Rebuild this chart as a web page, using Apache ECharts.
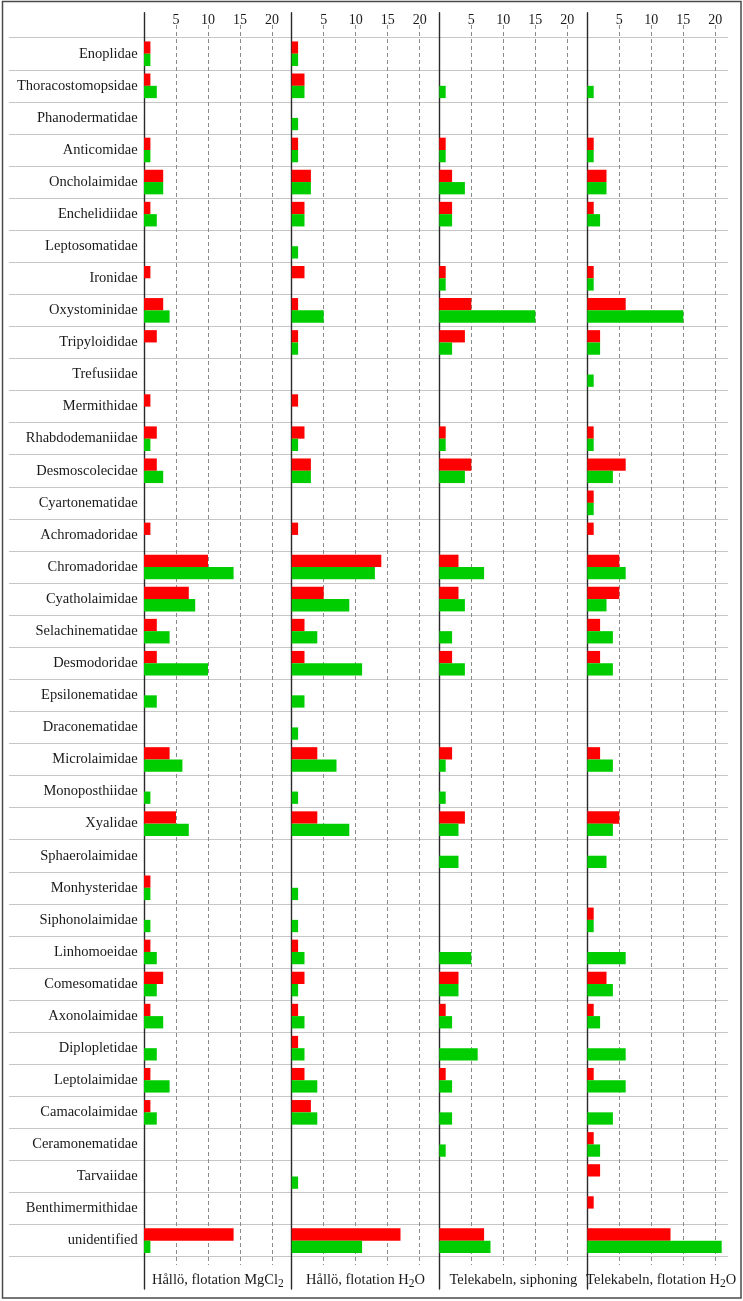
<!DOCTYPE html>
<html><head><meta charset="utf-8">
<script src="https://cdn.jsdelivr.net/npm/echarts@6/dist/echarts.min.js"></script>
<style>html,body{margin:0;padding:0;background:#fff}#c{width:743px;height:1301px}</style>
</head><body><div id="c"></div>
<script>
// ---------------- data ----------------
const families = ['Enoplidae','Thoracostomopsidae','Phanodermatidae','Anticomidae','Oncholaimidae','Enchelidiidae','Leptosomatidae','Ironidae','Oxystominidae','Tripyloididae','Trefusiidae','Mermithidae','Rhabdodemaniidae','Desmoscolecidae','Cyartonematidae','Achromadoridae','Chromadoridae','Cyatholaimidae','Selachinematidae','Desmodoridae','Epsilonematidae','Draconematidae','Microlaimidae','Monoposthiidae','Xyalidae','Sphaerolaimidae','Monhysteridae','Siphonolaimidae','Linhomoeidae','Comesomatidae','Axonolaimidae','Diplopletidae','Leptolaimidae','Camacolaimidae','Ceramonematidae','Tarvaiidae','Benthimermithidae','unidentified'];

const redHalloMgCl2   = [1,1,0,1,3,1,0,1,3,2,0,1,2,2,0,1,10,7,2,2,0,0,4,0,5,0,1,0,1,3,1,0,1,1,0,0,0,14];
const greenHalloMgCl2 = [1,2,0,1,3,2,0,0,4,0,0,0,1,3,0,0,14,8,4,10,2,0,6,1,7,0,1,1,2,2,3,2,4,2,0,0,0,1];

const redHalloH2O     = [1,2,0,1,3,2,0,2,1,1,0,1,2,3,0,1,14,5,2,2,0,0,4,0,4,0,0,0,1,2,1,1,2,3,0,0,0,17];
const greenHalloH2O   = [1,2,1,1,3,2,1,0,5,1,0,0,1,3,0,0,13,9,4,11,2,1,7,1,9,0,1,1,2,1,2,2,4,4,0,1,0,11];

const redTeleSiph     = [0,0,0,1,2,2,0,1,5,4,0,0,1,5,0,0,3,3,0,2,0,0,2,0,4,0,0,0,0,3,1,0,1,0,0,0,0,7];
const greenTeleSiph   = [0,1,0,1,4,2,0,1,15,2,0,0,1,4,0,0,7,4,2,4,0,0,1,1,3,3,0,0,5,3,2,6,2,2,1,0,0,8];

const redTeleH2O      = [0,0,0,1,3,1,0,1,6,2,0,0,1,6,1,1,5,5,2,2,0,0,2,0,5,0,0,1,0,3,1,0,1,0,1,2,1,13];
const greenTeleH2O    = [0,1,0,1,3,2,0,1,15,2,1,0,1,4,1,0,6,3,4,4,0,0,4,0,4,3,0,1,6,4,2,6,6,4,2,0,0,21];

const tickLabels = [5, 10, 15, 20];
const panelTitles = [
  '{b|Hållö, flotation MgCl}{s|2}',
  '{b|Hållö, flotation H}{s|2}{b|O}',
  '{b|Telekabeln, siphoning}',
  '{b|Telekabeln, flotation H}{s|2}{b|O}'
];
const panelData = [
  [redHalloMgCl2, greenHalloMgCl2],
  [redHalloH2O, greenHalloH2O],
  [redTeleSiph, greenTeleSiph],
  [redTeleH2O, greenTeleH2O]
];

// ---------------- layout / style ----------------
const FONT = 'Liberation Serif';
const TEXT = '#1a1a1a';
const RED = '#ff0000', GREEN = '#00cd00';
const AXIS_X = [144, 291.7, 439.3, 587.3];
const RIGHT_END = 728;
const PX_PER_UNIT = 6.4;
const ROWS_TOP = 37.7, ROWS_BOTTOM = 1256.7;
const DASH_TOP = 25, DASH_BOTTOM = 1265;
const LINE_TOP = 12.7, LINE_BOTTOM = 1289;
const LABEL_Y = 1280;
const LABEL_LEFT = 9;

const grids = [], xAxes = [], yAxes = [], series = [], titles = [];

function hiddenValueAxes(gi) {
  xAxes.push({ type: 'value', gridIndex: gi, show: false });
  yAxes.push({ type: 'value', gridIndex: gi, show: false });
}

// outer frame
grids.push({ left: 2.5, top: 1.5, width: 738.5, height: 1296.5, show: true,
  borderColor: '#4a4a4a', borderWidth: 1.5, backgroundColor: 'transparent' });
hiddenValueAxes(0);

// label area row separators
grids.push({ left: LABEL_LEFT, top: ROWS_TOP, width: AXIS_X[0] - LABEL_LEFT, height: ROWS_BOTTOM - ROWS_TOP });
xAxes.push({ type: 'value', gridIndex: 1, show: false });
yAxes.push({ type: 'category', gridIndex: 1, data: families, inverse: true,
  axisLine: { show: false }, axisTick: { show: false }, axisLabel: { show: false },
  splitLine: { show: true, lineStyle: { color: '#c6c6c6', width: 1.2 } } });

for (let p = 0; p < 4; p++) {
  const left = AXIS_X[p];
  const right = p < 3 ? AXIS_X[p + 1] : RIGHT_END;
  const width = right - left;
  const max = width / PX_PER_UNIT;

  // dashed vertical grid + tick labels
  let gi = grids.length;
  grids.push({ left: left, top: DASH_TOP, width: width, height: DASH_BOTTOM - DASH_TOP });
  xAxes.push({ type: 'value', gridIndex: gi, min: 0, max: max, interval: 5, position: 'top',
    axisLine: { show: false }, axisTick: { show: false },
    axisLabel: { show: true, margin: -2, fontFamily: FONT, fontSize: 14, color: TEXT,
      showMinLabel: false, showMaxLabel: false,
      formatter: v => tickLabels.includes(v) ? String(v) : '' },
    splitLine: { show: true, showMinLine: false, showMaxLine: false,
      lineStyle: { color: '#8a8a8a', width: 1, type: [4, 3] } } });
  yAxes.push({ type: 'value', gridIndex: gi, show: false });

  // solid vertical axis line
  gi = grids.length;
  grids.push({ left: left, top: LINE_TOP, width: width, height: LINE_BOTTOM - LINE_TOP });
  xAxes.push({ type: 'value', gridIndex: gi, show: false });
  yAxes.push({ type: 'value', gridIndex: gi, position: 'left',
    axisLine: { show: true, onZero: false, lineStyle: { color: '#2a2a2a', width: 1.4 } },
    axisTick: { show: false }, axisLabel: { show: false }, splitLine: { show: false } });

  // bars
  gi = grids.length;
  grids.push({ left: left, top: ROWS_TOP, width: width, height: ROWS_BOTTOM - ROWS_TOP });
  const xi = xAxes.length, yi = yAxes.length;
  xAxes.push({ type: 'value', gridIndex: gi, min: 0, max: max, show: false });
  yAxes.push({ type: 'category', gridIndex: gi, data: families, inverse: true,
    axisLine: { show: false }, axisTick: { show: false },
    axisLabel: { show: p === 0, margin: 6.3, fontFamily: FONT, fontSize: 14.5, color: TEXT },
    splitLine: { show: true, lineStyle: { color: '#c6c6c6', width: 1.2 } } });

  series.push({ type: 'bar', xAxisIndex: xi, yAxisIndex: yi, data: panelData[p][0],
    barWidth: 12.3, barGap: '0%', itemStyle: { color: RED }, silent: true });
  series.push({ type: 'bar', xAxisIndex: xi, yAxisIndex: yi, data: panelData[p][1],
    barWidth: 12.3, barGap: '0%', itemStyle: { color: GREEN }, silent: true });

  titles.push({ text: panelTitles[p], left: left + width / 2 + (p === 3 ? 3.5 : 0), top: LABEL_Y,
    textAlign: 'center', textVerticalAlign: 'middle', padding: 0,
    textStyle: { fontWeight: 'normal', rich: {
      b: { fontFamily: FONT, fontSize: 14.5, fontWeight: 'normal', color: TEXT, lineHeight: 20 },
      s: { fontFamily: FONT, fontSize: 11.5, fontWeight: 'normal', color: TEXT, lineHeight: 1, verticalAlign: 'bottom' }
    } } });
}

const chart = echarts.init(document.getElementById('c'), null, { renderer: 'canvas' });
chart.setOption({
  animation: false,
  backgroundColor: '#ffffff',
  title: titles,
  grid: grids,
  xAxis: xAxes,
  yAxis: yAxes,
  series: series
});
</script></body></html>
